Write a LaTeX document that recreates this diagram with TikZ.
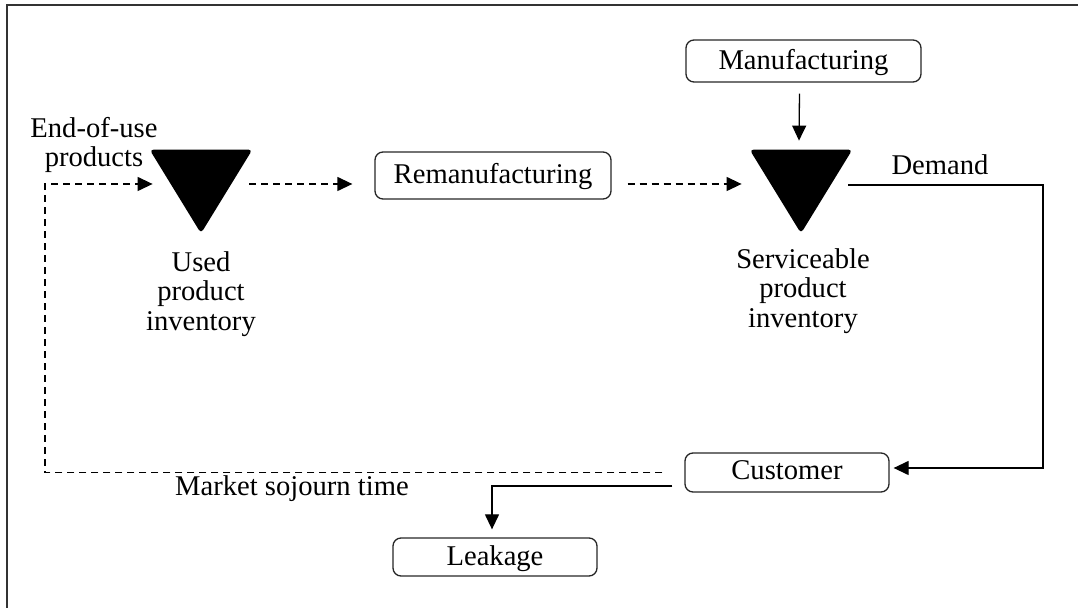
\documentclass[tikz,border=0pt]{standalone}
\usepackage{fontspec}
\setmainfont{Liberation Serif}
\usetikzlibrary{arrows.meta}
\begin{document}
\begin{tikzpicture}[x=0.5pt,y=-0.5pt,
  font=\fontsize{14.3pt}{14.8pt}\selectfont,
  procbox/.style={draw=black!85,line width=0.65pt,rounded corners=4pt,inner sep=0pt,text height=11.4pt,text depth=3pt},
  trinode/.style={inner sep=0pt,minimum width=51pt,minimum height=41.5pt},
  lbl/.style={align=center,inner sep=0pt},
  flow/.style={line width=0.65pt,-{Triangle[length=7.5pt,width=7pt]}},
  dflow/.style={flow,dash pattern=on 3.5pt off 2.5pt}]
\useasboundingbox (0,0) rectangle (1078,608);
\draw[line width=0.8pt,black!80] (7,608) -- (7,5) -- (1078,5);

% process boxes
\node[procbox,minimum width=117.5pt,minimum height=21pt] (manu) at (803.5,61) {Manufacturing};
\node[procbox,minimum width=118pt,minimum height=23.5pt] (reman) at (493,175.5) {Remanufacturing};
\node[procbox,minimum width=102pt,minimum height=19.5pt,text height=10.4pt] (cust) at (787,472.5) {Customer};
\node[procbox,minimum width=102pt,minimum height=19pt] (leak) at (495,557) {Leakage};

% inventory triangles
\node[trinode] (used) at (201,191.5) {};
\node[trinode] (serv) at (801,191.5) {};
\fill[rounded corners=2pt] (used.north west) -- (used.north east) -- (used.south) -- cycle;
\fill[rounded corners=2pt] (serv.north west) -- (serv.north east) -- (serv.south) -- cycle;

% labels
\node[lbl] (eou) at (94,145) {End-of-use\\products};
\node[lbl] (usedl) at (201,294) {Used\\product\\inventory};
\node[lbl] (servl) at (803,291) {Serviceable\\product\\inventory};
\node[lbl] (dem) at (940,165) {Demand};
\node[lbl] (mst) at (292,489) {Market sojourn time};

% coordinates for corners
\coordinate (loopx) at (45,184);
\coordinate (dcorner) at (1043,300);

% connectors
\draw[dflow] ([xshift=-11pt]cust.west) -| (loopx) -- ([xshift=1.5pt,yshift=3.75pt]used.west);
\draw[dflow] ([xshift=-1.5pt,yshift=3.75pt]used.east) -- ([xshift=-11pt,yshift=-4.25pt]reman.west);
\draw[dflow] ([xshift=8pt,yshift=-4.25pt]reman.east) -- ([xshift=-4pt,yshift=3.75pt]serv.west);
\draw[flow] ([xshift=-2pt,yshift=-5.5pt]manu.south) -- ([xshift=-1pt,yshift=4.5pt]serv.north);
\draw[flow] ([xshift=-2pt,yshift=3.25pt]serv.east) -| (dcorner) |- ([xshift=2pt,yshift=2.25pt]cust.east);
\draw[flow] ([xshift=-6pt,yshift=-6.75pt]cust.west) -| ([xshift=-1.5pt,yshift=4pt]leak.north);
\end{tikzpicture}
\end{document}
